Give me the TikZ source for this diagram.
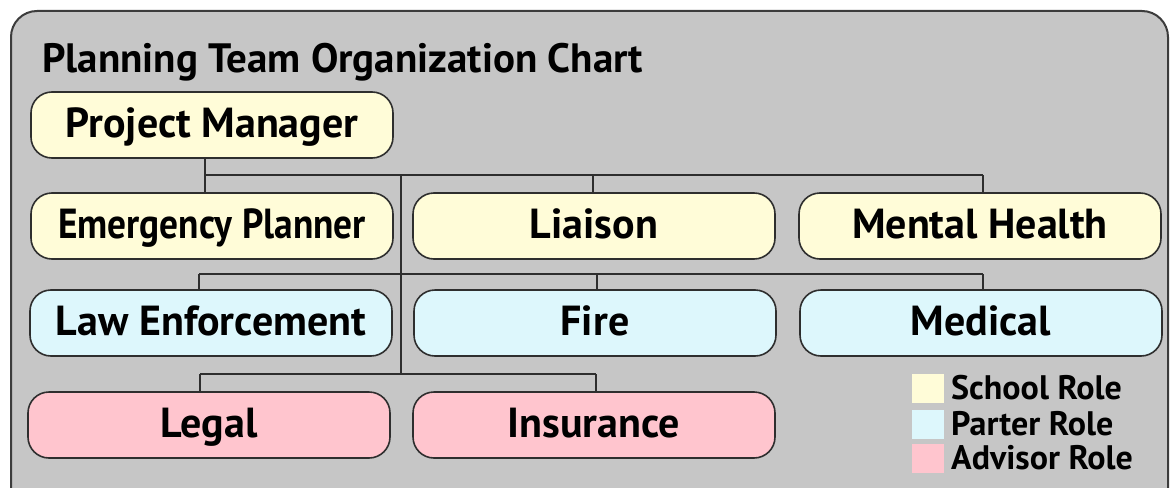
\documentclass[tikz,border=0pt]{standalone}
\usepackage{fontspec}
\setmainfont{PT Sans}
\definecolor{bggray}{HTML}{C6C6C6}
\definecolor{framegray}{HTML}{3C3C3C}
\definecolor{schoolc}{HTML}{FFFCD8}
\definecolor{partnerc}{HTML}{DDF7FC}
\definecolor{advisorc}{HTML}{FFC5CE}
\definecolor{linec}{HTML}{2E2E2E}
\tikzset{
  role/.style={draw=linec, line width=1.6pt, rounded corners=21pt,
    minimum width=362pt, minimum height=66pt, inner sep=0pt,
    text height=33.6pt, text depth=9.6pt,
    font=\fontsize{42}{46}\selectfont\bfseries},
  school/.style={role, fill=schoolc},
  partner/.style={role, fill=partnerc},
  advisor/.style={role, fill=advisorc},
  conn/.style={draw=linec, line width=1.8pt},
  legsq/.style={minimum width=32pt, minimum height=29pt, inner sep=0pt},
  legtext/.style={anchor=west, inner sep=0pt, font=\fontsize{34}{36}\selectfont\bfseries}
}
\begin{document}
\begin{tikzpicture}[x=1pt,y=-1pt]
\useasboundingbox (0,0) rectangle (1172,487);
\clip (0,0) rectangle (1172,487);
\draw[draw=framegray, line width=2pt, fill=bggray, rounded corners=26pt] (11,11) rectangle (1168,520);
\node[anchor=base west, inner sep=0pt, font=\fontsize{41}{46}\selectfont\bfseries] (title) at (42,72) {Planning Team Organization Chart};
% nodes
\node[school] (pm) at (212,125) {Project Manager};
\node[school] (ep) at (212,226) {\scalebox{0.89}[1]{Emergency Planner}};
\node[school] (li) at (594,226) {Liaison};
\node[school] (mh) at (980,226) {Mental Health};
\node[partner] (le) at (211,323) {Law Enforcement};
\node[partner] (fi) at (595,323) {Fire};
\node[partner] (md) at (981,323) {Medical};
\node[advisor] (lg) at (209,425) {Legal};
\node[advisor] (in) at (594,425) {Insurance};
% bus coordinates
\coordinate (b2l) at (205,175);
\coordinate (b2r) at (983,175);
\coordinate (b2t) at (401,175);
\coordinate (b3l) at (199,274);
\coordinate (b3r) at (983,274);
\coordinate (b4l) at (200,374);
\coordinate (b4r) at (596,374);
\coordinate (b4t) at (401,374);
% connectors
\draw[conn] (pm.south -| b2l) -- (b2l) -- (b2r);
\draw[conn] (b2l) -- (ep.north -| b2l);
\draw[conn] (593,175) -- (li.north -| 593,0);
\draw[conn] (b2r) -- (mh.north -| b2r);
\draw[conn] (b2t) -- (b4t);
\draw[conn] (b3l) -- (b3r);
\draw[conn] (b3l) -- (le.north -| b3l);
\draw[conn] (597,274) -- (fi.north -| 597,0);
\draw[conn] (b3r) -- (md.north -| b3r);
\draw[conn] (b4l) -- (b4r);
\draw[conn] (b4l) -- (lg.north -| b4l);
\draw[conn] (b4r) -- (in.north -| b4r);
% legend
\node[legsq, fill=schoolc] (ls) at (928,388) {};
\node[legsq, fill=partnerc] (lp) at (928,424) {};
\node[legsq, fill=advisorc] (la) at (928,458) {};
\node[legtext] (lts) at (951,388) {School Role};
\node[legtext] (ltp) at (951,424) {Parter Role};
\node[legtext] (lta) at (951,458) {Advisor Role};
\end{tikzpicture}
\end{document}
